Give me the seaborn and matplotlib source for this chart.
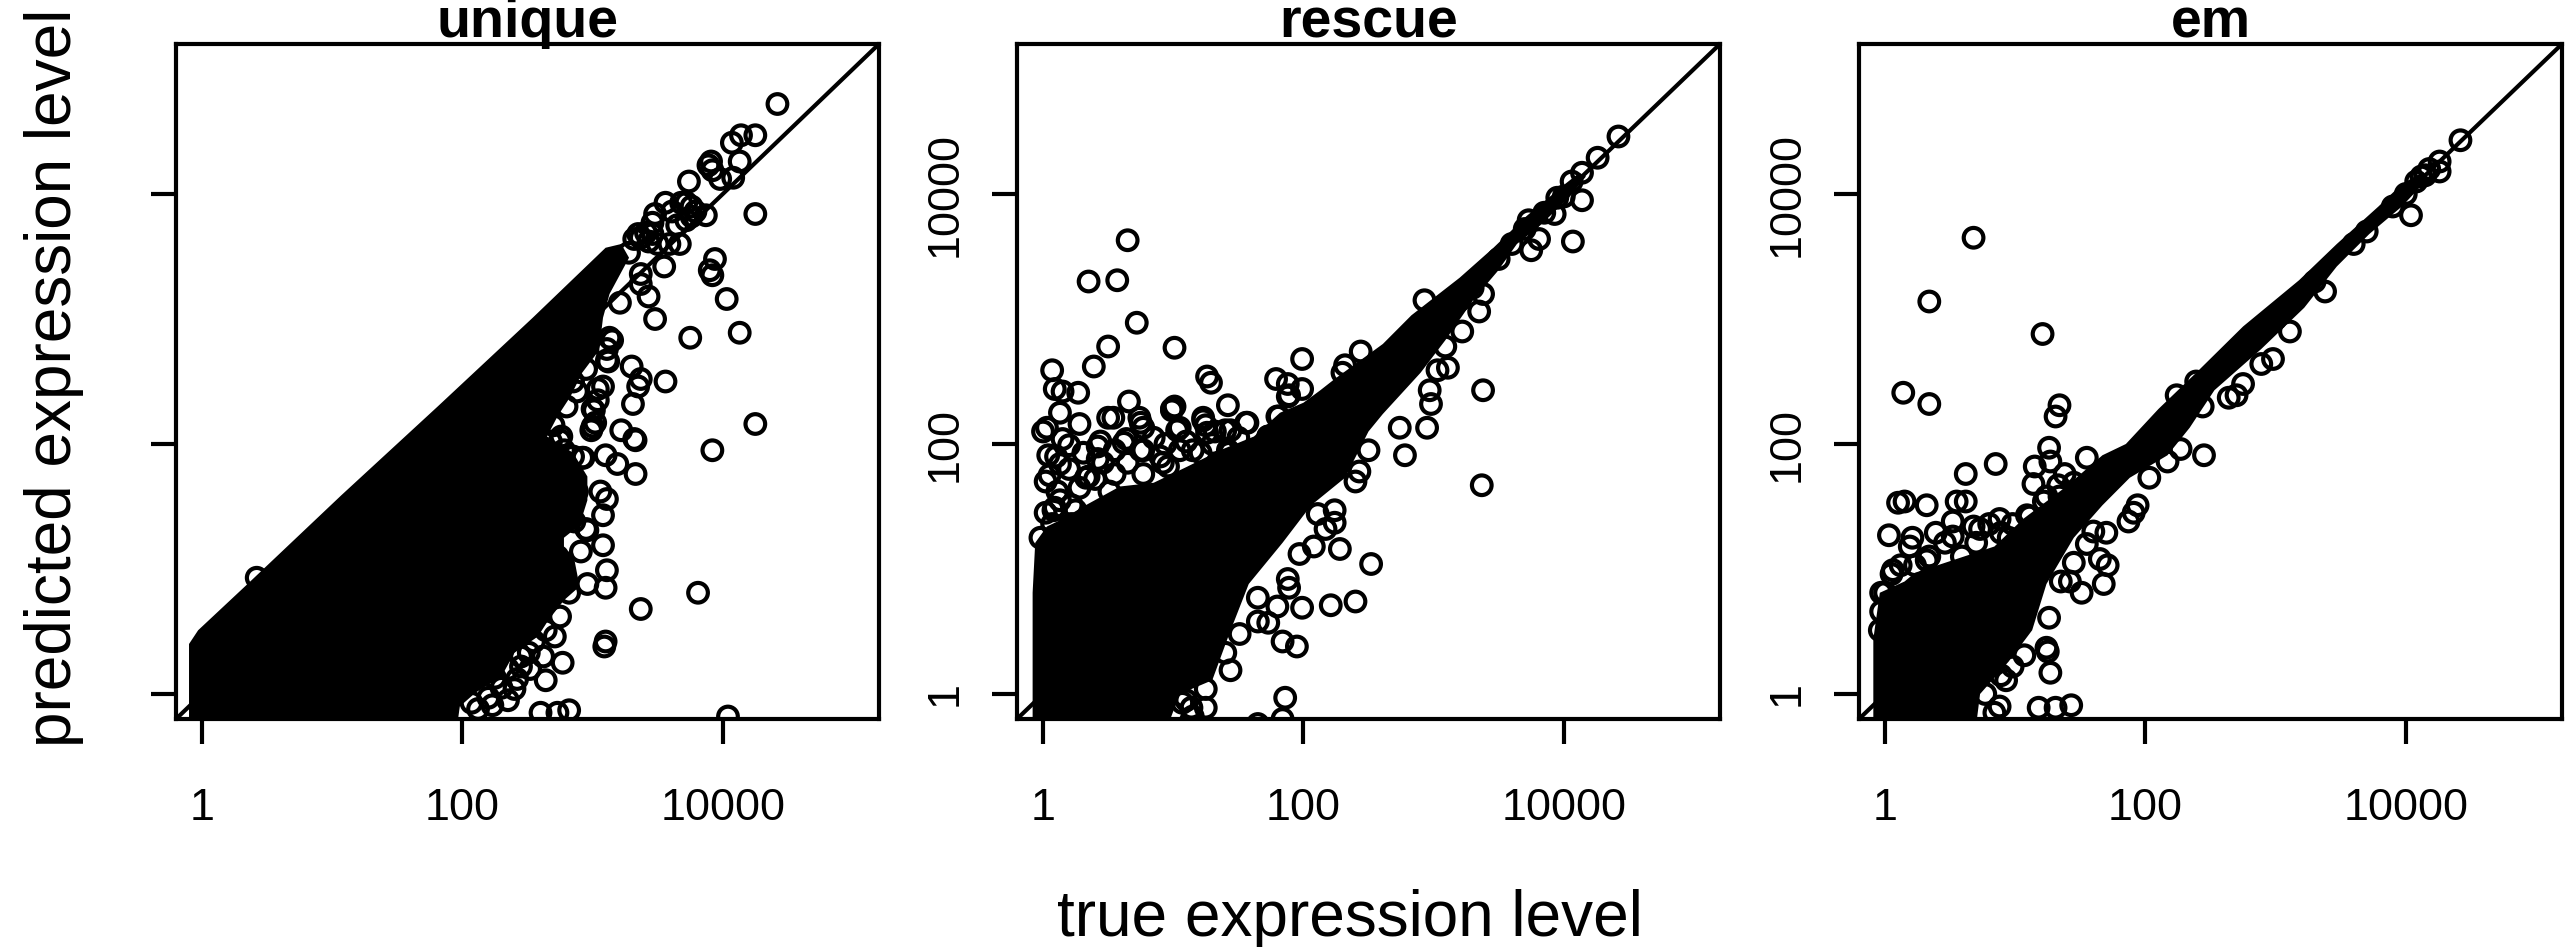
import numpy as np
import pandas as pd
import matplotlib
matplotlib.use("Agg")
import matplotlib.pyplot as plt
import seaborn as sns

# all values are log10 of the expression level
# the *_mass_* lists trace the outline of the solid black part, where the circles overplot completely

panel_names = ["unique", "rescue", "em"]
tick_values = [1, 100, 10000]
tick_labels = ["1", "100", "10000"]

unique_x = [4.42,4.25,4.14,4.07,4.13,3.91,3.89,3.92,3.98,4.08,3.74,4.25,3.87,3.76,3.68,3.56,3.48,3.46,3.76,3.65,
            3.41,3.37,3.43,3.67,3.59,3.55,3.94,3.90,3.92,4.03,3.37,3.37,3.43,3.21,3.48,3.75,4.13,3.13,3.11,3.11,
            3.30,3.37,3.35,3.56,3.31,3.04,3.04,3.00,3.02,2.99,4.25,3.92,3.22,3.33,3.32,3.10,3.19,3.33,2.76,2.93,
            2.76,3.11,3.06,3.08,2.95,2.86,2.75,2.88,2.58,2.43,3.08,3.11,3.10,2.91,2.96,2.82,2.73,3.81,3.37,3.10,
            3.09,2.75,2.71,2.64,2.51,2.45,2.77,2.64,2.40,2.25,2.23,2.60,2.73,2.82,4.04,2.07,2.14,2.03,2.18,2.32,
            0.42,2.40,2.54,2.47,2.58,2.69,2.25,
            3.32,3.35,3.46,3.61,3.72,3.79,3.50,3.28,3.72,3.01,3.00,2.85,2.92,2.75,3.08,3.12,3.15,2.96,
            2.35,2.45,2.30,2.20,2.12,2.35,2.42,2.52,2.55,2.62,2.95,2.88,2.80,2.70,2.68,2.85,2.78]
unique_y = [4.72,4.47,4.47,4.41,4.26,4.26,4.23,4.19,4.12,4.13,4.10,3.84,3.83,3.90,3.93,3.93,3.84,3.77,3.82,3.75,
            3.69,3.65,3.62,3.60,3.60,3.42,3.48,3.39,3.35,3.16,3.36,3.28,3.18,3.13,3.00,2.85,2.89,2.85,2.76,2.67,
            2.62,2.52,2.46,2.50,2.32,2.44,2.35,2.28,2.17,2.11,2.16,1.95,2.11,2.03,2.04,1.91,1.84,1.76,2.06,1.89,
            1.76,1.56,1.62,1.43,1.32,1.38,1.60,1.62,1.58,1.65,1.19,0.99,0.85,1.14,0.88,0.81,1.10,0.81,0.68,0.42,
            0.38,0.62,0.46,0.51,0.33,0.22,0.25,0.11,0.04,0.13,-0.09,-0.15,-0.15,-0.13,-0.18,-0.07,0.48,0.51,0.26,0.40,
            0.93,0.55,0.66,0.85,0.92,0.88,1.51,
            3.64,3.68,3.68,3.86,3.93,3.86,3.60,3.53,3.79,2.27,2.14,1.90,1.89,2.03,2.46,2.66,2.83,1.31,
            0.20,0.30,0.05,-0.03,-0.12,-0.05,0.12,0.20,0.42,0.30,2.60,2.42,2.30,2.15,2.02,2.50,1.95]
unique_mass_x = [-0.10,-0.10,-0.03,0.36,1.07,1.81,2.54,2.91,3.10,3.22,3.28,3.13,3.08,3.05,2.92,2.83,2.73,2.65,2.85,
                 2.96,2.96,2.90,2.78,2.78,2.85,2.90,2.78,2.66,2.58,2.40,2.30,2.10,1.98,1.96]
unique_mass_y = [-0.25,0.40,0.51,0.89,1.59,2.30,3.01,3.38,3.57,3.60,3.49,3.20,3.01,2.75,2.57,2.38,2.22,2.06,1.93,
                 1.74,1.55,1.35,1.25,1.15,1.13,0.86,0.75,0.59,0.46,0.33,0.14,0.01,-0.10,-0.25]

rescue_x = [4.42,4.26,4.14,4.06,4.14,3.93,4.07,3.81,3.75,3.73,3.38,3.35,3.22,2.93,3.09,3.11,3.03,3.38,2.97,2.98,
            2.95,2.74,2.78,3.37,2.44,2.32,2.30,1.99,1.79,1.88,1.99,1.89,1.80,1.73,2.50,2.43,2.40,2.24,2.24,2.11,
            2.17,2.28,2.52,2.08,1.97,1.88,1.89,1.99,2.21,2.40,1.80,1.73,1.65,1.84,1.95,1.44,1.86,1.84,1.65,1.25,
            1.14,1.07,1.25,
            0.65,0.35,0.57,0.72,0.50,0.39,1.01,1.26,1.29,0.07,0.09,0.15,0.27,0.13,0.28,0.03,0.00,0.15,0.20,0.04,
            0.13,0.02,0.11,0.09,0.22,0.66,0.54,0.50,0.74,0.64,0.77,0.99,1.01,1.05,0.94,0.75,0.44,0.31,0.42,0.33,
            0.55,0.77,0.96,1.23,1.25,1.42,1.56,1.40,1.32,1.21,1.43,1.05,0.22,0.07,0.51,
            0.13,0.08,0.25,0.35,0.46,0.42,0.62,0.77,0.75,0.92,1.03,0.99,1.23,1.26,1.44,1.42,1.57,1.73,1.81,1.88,
            1.00,1.10,1.05,1.20,1.15,1.65,1.51,1.40,3.60,3.70,3.85,3.95,4.00,3.50,3.30,3.20,
            0.05,0.10,0.20,0.28,0.40,0.55,0.65,0.85,0.90,1.10,1.15,1.30,1.50,0.02,-0.02]
rescue_y = [4.46,4.29,4.17,4.10,3.95,3.84,3.62,3.64,3.55,3.79,3.20,3.06,2.90,3.15,2.78,2.61,2.59,2.43,2.43,2.32,
            2.13,2.13,1.91,1.67,2.74,2.63,2.57,2.68,2.52,2.48,2.44,2.39,2.22,2.06,1.95,1.78,1.70,1.47,1.37,1.44,
            1.32,1.16,1.04,1.18,1.12,0.92,0.85,0.69,0.71,0.74,0.70,0.57,0.58,0.42,0.38,0.19,-0.03,-0.20,-0.24,-0.11,
            -0.11,-0.07,0.04,
            3.63,3.30,3.31,2.97,2.78,2.62,2.77,2.54,2.49,2.59,2.44,2.42,2.41,2.25,2.16,2.13,2.10,2.04,1.99,1.91,
            1.84,1.70,1.62,1.49,1.51,2.34,2.21,2.21,2.21,2.04,2.13,2.28,2.30,2.13,2.00,1.95,2.02,1.93,1.88,1.73,
            1.76,1.76,1.82,2.21,2.15,2.31,2.17,2.11,2.10,1.93,1.93,1.95,1.36,1.36,1.62,
            1.55,1.47,1.47,1.74,1.85,1.98,2.01,1.95,2.17,1.85,2.11,2.27,2.19,2.09,2.11,1.95,2.17,2.06,2.22,2.38,
            -0.15,-0.05,0.10,0.20,-0.18,0.77,0.48,0.33,3.60,3.72,3.85,3.97,3.98,3.48,3.25,3.15,
            1.75,1.90,1.80,1.65,1.72,1.95,1.85,2.05,1.90,2.02,1.95,2.00,2.05,1.45,1.25]
rescue_mass_x = [-0.08,-0.08,-0.06,0.03,0.15,0.31,0.59,0.85,1.11,1.36,1.62,1.82,2.00,2.13,2.24,2.61,2.83,3.20,3.46,3.71,
                 4.01,4.12,4.17,4.04,3.82,3.64,3.49,3.31,3.09,2.90,2.61,2.50,2.32,2.06,1.84,1.58,1.43,1.30,1.05,0.96]
rescue_mass_y = [-0.25,0.81,1.21,1.34,1.40,1.50,1.66,1.69,1.82,1.95,2.06,2.25,2.33,2.43,2.52,2.80,3.03,3.33,3.57,3.82,
                 4.08,4.17,4.14,3.97,3.75,3.60,3.38,3.16,2.83,2.57,2.24,2.10,1.73,1.51,1.21,0.88,0.48,0.11,0.00,-0.25]

em_x = [4.42,4.26,4.26,4.12,4.04,3.38,3.11,2.98,2.89,2.75,2.70,2.64,2.44,2.24,2.39,2.45,2.27,2.17,2.03,1.94,
        1.91,1.87,1.70,1.65,1.71,1.68,1.51,1.42,1.26,1.24,1.25,1.27,0.93,1.43,1.31,1.18,0.88,0.84,0.77,1.07,
        0.68,0.34,1.21,0.14,0.34,1.34,1.31,1.26,0.85,0.62,1.15,1.27,1.55,1.14,1.38,1.33,0.15,0.10,0.32,0.55,
        0.62,0.03,0.39,0.52,0.52,0.21,0.19,0.68,0.88,0.80,0.06,0.05,1.22,1.11,0.32,0.00,
        0.12,0.23,0.34,0.46,0.59,0.70,0.89,0.98,1.09,1.24,-0.03,-0.04,-0.03,0.98,0.89,
        3.90,4.00,4.08,4.15,4.18,3.60,3.30,3.00,3.70,
        0.73,0.95,1.13,1.34,1.45,1.34,1.20,1.35,1.45,1.55,1.60]
em_y = [4.43,4.26,4.18,4.14,3.83,3.22,2.90,2.68,2.64,2.48,2.39,2.37,2.30,2.39,2.50,1.91,1.96,1.86,1.73,1.51,
        1.45,1.38,1.29,1.08,1.03,0.88,0.81,0.90,0.61,0.37,0.34,0.17,0.11,-0.09,-0.11,-0.11,-0.10,-0.15,0.00,0.31,
        3.65,3.14,2.88,2.41,2.32,2.31,2.22,1.97,1.84,1.76,1.82,1.86,1.89,1.68,1.76,1.67,1.54,1.53,1.51,1.54,
        1.54,1.27,1.29,1.38,1.26,1.25,1.18,1.34,1.40,1.36,0.99,0.96,1.54,1.42,1.07,0.81,
        1.03,1.03,1.10,1.21,1.10,1.21,1.29,1.36,1.43,1.58,0.66,0.51,0.81,0.22,0.15,
        3.90,4.00,4.10,4.15,4.20,3.60,3.30,3.00,3.70,
        1.32,1.25,1.32,1.58,1.69,1.51,1.10,0.90,1.05,1.20,1.30]
em_mass_x = [-0.09,-0.09,-0.04,0.15,0.23,0.52,0.84,1.06,1.38,1.67,1.85,2.10,2.39,2.75,3.18,3.47,3.79,3.97,4.12,4.15,
             3.97,3.72,3.47,3.22,2.89,2.53,2.34,2.17,1.88,1.67,1.45,1.24,1.13,0.95,0.73,0.70]
em_mass_y = [-0.25,0.44,0.81,0.90,0.97,1.07,1.18,1.40,1.65,1.91,2.00,2.28,2.57,2.94,3.31,3.60,3.90,4.08,4.17,4.10,
             3.90,3.68,3.42,3.09,2.76,2.43,2.13,1.91,1.73,1.51,1.25,0.88,0.51,0.26,0.00,-0.25]

rings = [(unique_x, unique_y), (rescue_x, rescue_y), (em_x, em_y)]
masses = [(unique_mass_x, unique_mass_y), (rescue_mass_x, rescue_mass_y), (em_mass_x, em_mass_y)]

sns.set_style("white", {"text.color": "black", "axes.labelcolor": "black", "xtick.color": "black", "ytick.color": "black"})
plt.rcParams["font.family"] = ["Liberation Sans", "DejaVu Sans"]

W, H = 2575, 947
lims = [10 ** -0.2, 10 ** 5.2]
panel_left = [176, 1017, 1859]
panel_width = 703
panel_top = 44
panel_bottom = 719

fig, axes = plt.subplots(1, 3, figsize=(W / 100, H / 100), dpi=100)

for i, ax in enumerate(axes):
    ax.set_position([panel_left[i] / W, 1 - panel_bottom / H, panel_width / W, (panel_bottom - panel_top) / H])

    mx, my = masses[i]
    ax.fill(10 ** np.array(mx), 10 ** np.array(my), color="black", lw=0)

    df = pd.DataFrame({"true": 10 ** np.array(rings[i][0]), "pred": 10 ** np.array(rings[i][1])})
    sns.scatterplot(data=df, x="true", y="pred", ax=ax, s=200, facecolors="none", edgecolor="black", linewidth=3)

    ax.plot(lims, lims, color="black", lw=3)
    ax.set_xscale("log")
    ax.set_yscale("log")
    ax.set_xlim(lims)
    ax.set_ylim(lims)
    ax.set_xlabel("")
    ax.set_ylabel("")
    ax.minorticks_off()
    ax.set_xticks(tick_values, tick_labels)
    ax.set_yticks(tick_values, tick_labels if i > 0 else ["", "", ""])
    ax.tick_params(axis="both", length=18, width=3, color="black", labelsize=32.4, labelcolor="black",
                   bottom=True, left=True)
    ax.tick_params(axis="x", pad=32)
    ax.tick_params(axis="y", pad=19)
    plt.setp(ax.get_yticklabels(), rotation=90, va="center")
    for s in ax.spines.values():
        s.set_linewidth(3)
        s.set_color("black")
    ax.set_title(panel_names[i], fontsize=40, fontweight="bold", pad=5)

fig.text(1350 / W, 1 - 919 / H, "true expression level", fontsize=46, ha="center", va="center")
fig.text(54 / W, 1 - 378 / H, "predicted expression level", fontsize=46, rotation=90, ha="center", va="center")

fig.savefig("out.png", dpi=100)
